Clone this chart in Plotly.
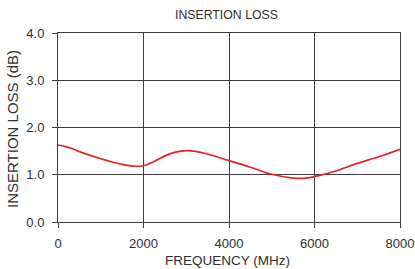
import plotly.graph_objects as go

freq = [0, 250, 500, 1000, 1500, 1800, 2000, 2250, 2500, 2750, 3000, 3250, 3500,
        4000, 4500, 5000, 5500, 5800, 6000, 6500, 7000, 7500, 8000]
loss = [1.63, 1.58, 1.49, 1.34, 1.22, 1.18, 1.19, 1.28, 1.40, 1.48, 1.51, 1.49, 1.44,
        1.30, 1.16, 1.01, 0.93, 0.93, 0.96, 1.08, 1.24, 1.38, 1.54]
x_ticks = [0, 2000, 4000, 6000, 8000]
y_ticks = [0.0, 1.0, 2.0, 3.0, 4.0]

FAM = "Liberation Sans, Arial, sans-serif"
TXT = "#2e2e2e"
GRID = "#3c3c3c"

fig = go.Figure()
fig.add_trace(go.Scatter(x=freq, y=loss, mode="lines", hoverinfo="skip",
                         line=dict(color="#e3222b", width=1.7, shape="spline")))

fig.update_layout(
    width=415, height=269,
    margin=dict(l=58, r=15, t=33, b=47, autoexpand=False),
    paper_bgcolor="white", plot_bgcolor="white",
    showlegend=False,
    font=dict(family=FAM, size=13, color=TXT),
)
fig.add_annotation(text="INSERTION LOSS", xref="paper", yref="paper", x=0.493, y=1,
                   xanchor="center", yanchor="middle", yshift=18.5, showarrow=False,
                   font=dict(family=FAM, size=12.3, color=TXT))
fig.add_annotation(text="FREQUENCY (MHz)", xref="paper", yref="paper", x=0.497, y=0,
                   xanchor="center", yanchor="middle", yshift=-38, showarrow=False,
                   font=dict(family=FAM, size=13.5, color=TXT))
fig.add_annotation(text="INSERTION LOSS (dB)", xref="paper", yref="paper", x=0, y=0.492,
                   xanchor="center", yanchor="middle", xshift=-46, textangle=-90,
                   showarrow=False, font=dict(family=FAM, size=15, color=TXT))

fig.update_xaxes(range=[0, 8000], tickvals=x_ticks, ticktext=[str(v) for v in x_ticks],
                 showgrid=True, gridcolor=GRID, gridwidth=1,
                 showline=True, linecolor=GRID, linewidth=1, mirror=True,
                 ticks="outside", ticklen=5, tickcolor=GRID, ticklabelstandoff=4,
                 zeroline=False, automargin=False,
                 tickfont=dict(family=FAM, size=13, color=TXT))
fig.update_yaxes(range=[0, 4], tickvals=y_ticks, ticktext=[f"{v:.1f}" for v in y_ticks],
                 showgrid=True, gridcolor=GRID, gridwidth=1,
                 showline=True, linecolor=GRID, linewidth=1, mirror=True,
                 ticks="outside", ticklen=5, tickcolor=GRID, ticklabelstandoff=5,
                 zeroline=False, automargin=False,
                 tickfont=dict(family=FAM, size=13, color=TXT))

fig.write_html("out.html", config={"displayModeBar": False},
               post_script="document.body.style.margin='0';document.body.style.overflow='hidden';")
